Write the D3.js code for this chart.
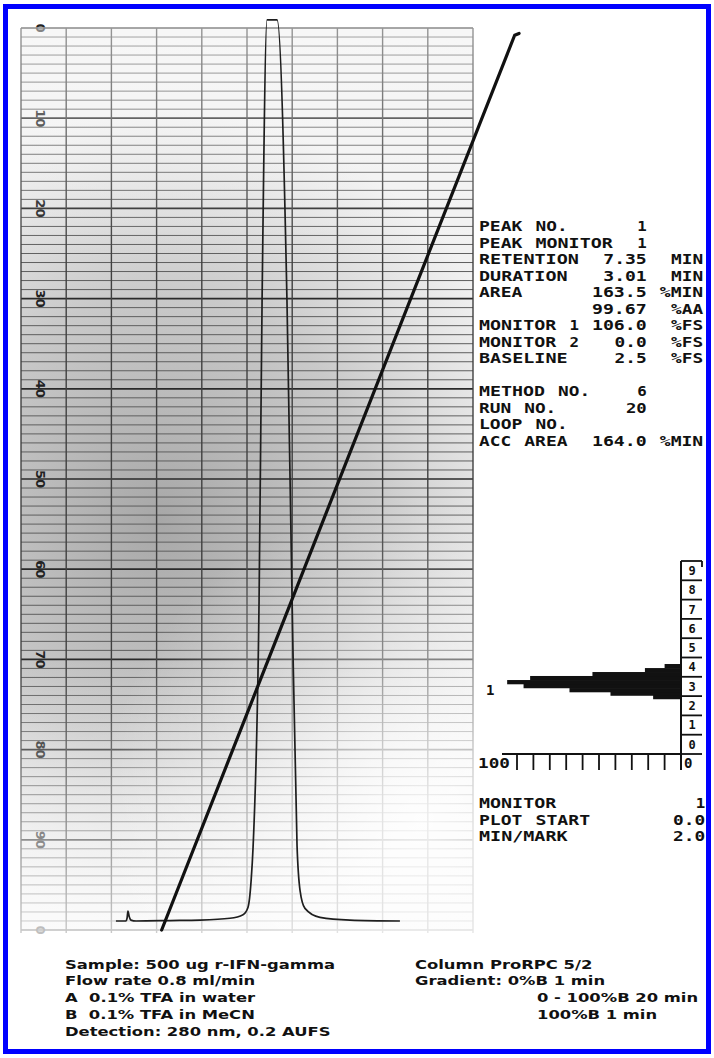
<!DOCTYPE html>
<html>
<head>
<meta charset="utf-8">
<script src="https://cdn.jsdelivr.net/npm/d3@7"></script>
<style>
  html, body { margin: 0; padding: 0; background: #fff; }
  svg { display: block; }
</style>
</head>
<body>
<svg id="chart" width="714" height="1058"></svg>
<script>
// ---- detector trace: time (min) vs signal (% full scale) ----
const traceTime   = [-1.59, -1.02, -0.96, -0.91, -0.84, -0.74, -0.45, 1.5, 3.17, 4.87, 5.61, 5.89, 6.07, 6.18, 6.52, 6.69, 6.97, 7.35, 7.54, 8.10, 8.39, 8.67, 8.84, 9.12, 9.97, 11.67, 14.5];
const traceSignal = [1.0, 1.0, 1.3, 2.1, 1.5, 1.1, 1.0, 1.05, 1.1, 1.3, 1.7, 2.5, 5.5, 9.2, 36.6, 69.8, 101.5, 106.0, 101.5, 69.8, 36.6, 9.4, 4.4, 2.4, 1.4, 1.1, 1.0];

// ---- gradient programme: time (min) vs %B ----
const gradientTime = [1, 21, 21.25];
const gradientB    = [0, 99.2, 99.4];

// ---- chart paper ----
const paperColumns = [0, 1, 2, 3, 4, 5, 6, 7, 8, 9, 10];
const paperLabels  = ["0", "10", "20", "30", "40", "50", "60", "70", "80", "90", "0"];

// ---- integrator peak profile (time bins, % FS) ----
const profileTime   = [5.91, 6.27, 6.63, 7.05, 7.46, 7.88, 8.29, 8.70, 9.12];
const profileSignal = [17, 43, 68, 96, 106, 92, 54, 22, 10];
const markLabels    = ["0", "1", "2", "3", "4", "5", "6", "7", "8", "9"];
const minPerMark    = 2.0;
const scaleTicks    = [0, 10, 20, 30, 40, 50, 60, 70, 80, 90, 100];
const peakNumber    = "1";
const retentionTime = 7.35;

// ---- printed report ----
const reportLines = [
  "PEAK NO.      1",
  "PEAK MONITOR  1",
  "RETENTION  7.35  MIN",
  "DURATION   3.01  MIN",
  "AREA      163.5 %MIN",
  "          99.67  %AA",
  "MONITOR 1 106.0  %FS",
  "MONITOR 2   0.0  %FS",
  "BASELINE    2.5  %FS",
  "",
  "METHOD NO.    6",
  "RUN NO.      20",
  "LOOP NO.",
  "ACC AREA  164.0 %MIN"
];
const plotSettingNames  = ["MONITOR", "PLOT START", "MIN/MARK"];
const plotSettingValues = ["1", "0.0", "2.0"];

// ---- run conditions ----
const notesLeft  = ["Sample: 500 ug r-IFN-gamma", "Flow rate 0.8 ml/min", "A  0.1% TFA in water", "B  0.1% TFA in MeCN", "Detection: 280 nm, 0.2 AUFS"];
const notesRight = ["Column ProRPC 5/2", "Gradient: 0%B 1 min", "0 - 100%B 20 min", "100%B 1 min"];

// =====================================================================
const W = 714, H = 1058;
const svg = d3.select("#chart");
svg.append("rect").attr("width", W).attr("height", H).attr("fill", "#fff");

const paper = { left: 21, right: 473, top: 28, bottom: 930 };

// time axis (min) and signal axis (% FS); pen travel ends just above 100 %
const x = d3.scaleLinear().domain([0, 20]).range([144, 497]);
const y = d3.scaleLinear().domain([0, 100.9]).range([930, 19.9]).clamp(true);

// printed paper divisions
const px = d3.scaleLinear().domain([0, 10]).range([paper.left, paper.right]);
const py = d3.scaleLinear().domain([0, 100]).range([paper.top, paper.bottom]);

const defs = svg.append("defs");
const shade = defs.append("radialGradient").attr("id", "paperShade")
  .attr("gradientUnits", "userSpaceOnUse").attr("cx", 160).attr("cy", 520).attr("r", 390)
  .attr("gradientTransform", "translate(160,520) scale(1,1.05) translate(-160,-520)");
shade.append("stop").attr("offset", 0).attr("stop-color", "#7a7a7a").attr("stop-opacity", 0.62);
shade.append("stop").attr("offset", 0.55).attr("stop-color", "#888").attr("stop-opacity", 0.38);
shade.append("stop").attr("offset", 1).attr("stop-color", "#a0a0a0").attr("stop-opacity", 0);

const fade = defs.append("linearGradient").attr("id", "paperFade")
  .attr("gradientUnits", "userSpaceOnUse").attr("x1", 0).attr("y1", 660).attr("x2", 0).attr("y2", 935);
fade.append("stop").attr("offset", 0).attr("stop-color", "#fff").attr("stop-opacity", 0);
fade.append("stop").attr("offset", 1).attr("stop-color", "#fff").attr("stop-opacity", 0.72);

const fadeR = defs.append("radialGradient").attr("id", "paperFadeRight")
  .attr("gradientUnits", "userSpaceOnUse").attr("cx", 420).attr("cy", 820).attr("r", 320);
fadeR.append("stop").attr("offset", 0).attr("stop-color", "#fff").attr("stop-opacity", 0.85);
fadeR.append("stop").attr("offset", 1).attr("stop-color", "#fff").attr("stop-opacity", 0);

const fadeTop = defs.append("linearGradient").attr("id", "paperFadeTop")
  .attr("gradientUnits", "userSpaceOnUse").attr("x1", 0).attr("y1", 28).attr("x2", 0).attr("y2", 260);
fadeTop.append("stop").attr("offset", 0).attr("stop-color", "#fff").attr("stop-opacity", 0.45);
fadeTop.append("stop").attr("offset", 1).attr("stop-color", "#fff").attr("stop-opacity", 0);

// paper background
const pw = paper.right - paper.left, ph = paper.bottom - paper.top;
svg.append("rect").attr("x", paper.left).attr("y", paper.top).attr("width", pw).attr("height", ph).attr("fill", "#f1f1f1");
svg.append("rect").attr("x", paper.left).attr("y", paper.top).attr("width", pw).attr("height", ph).attr("fill", "url(#paperShade)");

// horizontal rulings
const grid = svg.append("g");
grid.selectAll("line.h").data(d3.range(0, 101)).join("line")
  .attr("x1", paper.left).attr("x2", paper.right)
  .attr("y1", d => py(d)).attr("y2", d => py(d))
  .attr("stroke", d => d % 10 === 0 ? "#2a2a2a" : "#5e5e5e")
  .attr("stroke-width", d => d % 10 === 0 ? 1.7 : 1);
// vertical rulings
grid.selectAll("line.v").data(paperColumns).join("line")
  .attr("x1", d => px(d)).attr("x2", d => px(d))
  .attr("y1", paper.top).attr("y2", paper.bottom + 3)
  .attr("stroke", "#404040").attr("stroke-width", 1.4);

// printed scale numbers
grid.selectAll("text").data(paperLabels).join("text")
  .attr("transform", (d, i) => `translate(41,${py(i * 10)}) rotate(90)`)
  .attr("text-anchor", "middle").attr("dy", "0.36em")
  .attr("font-family", "'DejaVu Sans', sans-serif").attr("font-size", 13).attr("font-weight", "bold")
  .attr("fill", "#222").text(d => d);

const fadeBox = (id) => svg.append("rect").attr("x", paper.left - 1).attr("y", paper.top - 1)
  .attr("width", pw + 2).attr("height", ph + 6).attr("fill", `url(#${id})`);
fadeBox("paperFadeTop");
fadeBox("paperFade");
fadeBox("paperFadeRight");

// detector trace
const trace = traceTime.map((t, i) => [t, traceSignal[i]]);
svg.append("path").datum(trace)
  .attr("d", d3.line().x(d => x(d[0])).y(d => y(d[1])).curve(d3.curveMonotoneX))
  .attr("fill", "none").attr("stroke", "#1e1e1e").attr("stroke-width", 1.7).attr("stroke-linejoin", "round");

// gradient line
const grad = gradientTime.map((t, i) => [t, gradientB[i]]);
svg.append("path").datum(grad)
  .attr("d", d3.line().x(d => x(d[0])).y(d => y(d[1])))
  .attr("fill", "none").attr("stroke", "#111").attr("stroke-width", 3.2)
  .attr("stroke-linecap", "round").attr("stroke-linejoin", "round");

// ---- printed report (fixed-pitch printer) ----
const mono = "'DejaVu Sans Mono', 'Liberation Mono', monospace";
const pitch = 11.3;
function printLine(g, str, x0, yy) {
  const re = /\S+/g; let m;
  while ((m = re.exec(str))) {
    g.append("text").attr("x", x0 + m.index * pitch).attr("y", yy).attr("dy", "0.36em")
      .attr("textLength", m[0].length * pitch - 1.8).attr("lengthAdjust", "spacingAndGlyphs")
      .text(m[0]);
  }
}
const rep = svg.append("g").attr("font-family", mono).attr("font-weight", "bold")
  .attr("font-size", 14).attr("fill", "#111");
reportLines.forEach((line, i) => printLine(rep, line, 479, 226 + i * 16.5));

// ---- integrator peak profile ----
const xm = d3.scaleLinear().domain([0, 100]).range([681, 517]);
const ym = d3.scaleLinear().domain([0, 10 * minPerMark]).range([754, 561]);
const mini = svg.append("g").attr("fill", "#111").attr("stroke", "#111");
const binH = 0.41;
mini.selectAll("rect").data(profileTime).join("rect")
  .attr("x", (d, i) => xm(profileSignal[i]))
  .attr("y", d => ym(d + binH / 2))
  .attr("width", (d, i) => xm(0) - xm(profileSignal[i]))
  .attr("height", d => ym(d - binH / 2) - ym(d + binH / 2) + 0.3)
  .attr("stroke", "none");

// baseline axis with ticks
mini.append("line").attr("x1", xm(100) - 15).attr("x2", xm(0)).attr("y1", ym(0)).attr("y2", ym(0)).attr("stroke-width", 2);
mini.selectAll("line.tk").data(scaleTicks).join("line")
  .attr("x1", d => xm(d)).attr("x2", d => xm(d)).attr("y1", ym(0)).attr("y2", ym(0) + 16)
  .attr("stroke-width", 1.8);
// time axis with mark boxes
mini.append("line").attr("x1", xm(0)).attr("x2", xm(0)).attr("y1", ym(20)).attr("y2", ym(0) + 16).attr("stroke-width", 2);
mini.selectAll("line.mk").data(d3.range(0, 11)).join("line")
  .attr("x1", xm(0)).attr("x2", xm(0) + 21)
  .attr("y1", d => ym(d * minPerMark)).attr("y2", d => ym(d * minPerMark))
  .attr("stroke-width", 1.8);
mini.append("line").attr("x1", xm(0) + 21).attr("x2", xm(0) + 21).attr("y1", ym(20)).attr("y2", ym(20) + 6).attr("stroke-width", 1.8);
const miniText = svg.append("g").attr("font-family", mono).attr("font-weight", "bold").attr("fill", "#111");
miniText.selectAll("text.mk").data(markLabels).join("text")
  .attr("x", xm(0) + 11).attr("y", (d, i) => ym((i + 0.5) * minPerMark))
  .attr("dy", "0.36em").attr("text-anchor", "middle").attr("font-size", 12).text(d => d);
miniText.append("text").attr("x", xm(100) - 7).attr("y", ym(0) + 14).attr("text-anchor", "end")
  .attr("font-size", 14).attr("textLength", 3 * pitch - 2).attr("lengthAdjust", "spacingAndGlyphs").text(String(scaleTicks[scaleTicks.length - 1]));
miniText.append("text").attr("x", xm(0) + 3).attr("y", ym(0) + 14)
  .attr("font-size", 14).text(String(scaleTicks[0]));
miniText.append("text").attr("x", 486).attr("y", ym(retentionTime) + 12)
  .attr("font-size", 14).text(peakNumber);

// plot settings
const setG = svg.append("g").attr("font-family", mono).attr("font-weight", "bold")
  .attr("font-size", 14).attr("fill", "#111");
plotSettingNames.forEach((name, i) => {
  const yy = 803 + i * 16.5;
  printLine(setG, name, 479, yy);
  const v = plotSettingValues[i];
  printLine(setG, v, 707 - v.length * pitch, yy);
});

// ---- run conditions ----
const keepSpaces = s => s.replace(/ {2}/g, " \u00A0");
const notes = svg.append("g").attr("font-family", "'DejaVu Sans', sans-serif").attr("font-weight", "bold")
  .attr("font-size", 12.5).attr("fill", "#111");
const leftTexts = notes.selectAll("text.l").data(notesLeft).join("text")
  .attr("x", 65).attr("y", (d, i) => 964 + i * 16.75).attr("dy", "0.36em").text(d => keepSpaces(d));
notes.selectAll("text.r").data(notesRight).join("text")
  .attr("x", (d, i) => i < 2 ? 415 : 537).attr("y", (d, i) => 964 + i * 16.75).attr("dy", "0.36em").text(d => keepSpaces(d));
const stretch = 270 / leftTexts.node().getComputedTextLength();
notes.selectAll("text").each(function () {
  const w = this.getComputedTextLength();
  d3.select(this).attr("textLength", w * stretch).attr("lengthAdjust", "spacingAndGlyphs");
});

// frame
svg.append("rect").attr("x", 5.5).attr("y", 6.5).attr("width", 703).attr("height", 1045)
  .attr("fill", "none").attr("stroke", "#0000ff").attr("stroke-width", 5);
</script>
</body>
</html>
